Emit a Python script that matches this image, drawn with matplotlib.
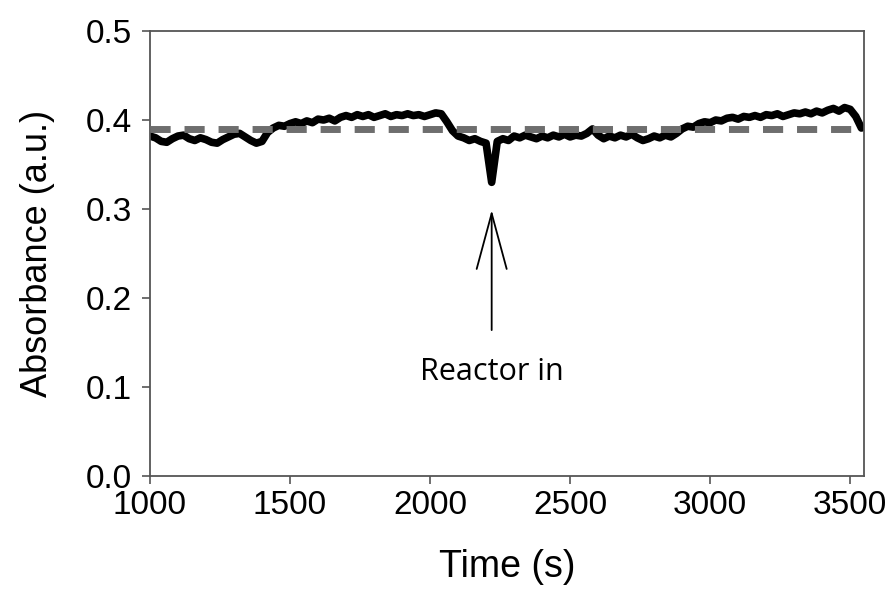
from matplotlib import pyplot as plt
import numpy as np

# absorbance trace, one reading every 20 s from 1000 s to 3540 s
time_s = np.arange(1000, 3541, 20)
absorbance = [
    # 1000 - 1440
    0.382, 0.380, 0.376, 0.375, 0.379, 0.382, 0.383, 0.379, 0.377, 0.380,
    0.378, 0.375, 0.374, 0.378, 0.381, 0.384, 0.385, 0.381, 0.377, 0.374,
    0.376, 0.386, 0.391,
    # 1460 - 2040
    0.394, 0.393, 0.396, 0.398, 0.396, 0.399, 0.397, 0.401, 0.400, 0.402,
    0.399, 0.403, 0.405, 0.403, 0.406, 0.404, 0.406, 0.403, 0.405, 0.407,
    0.404, 0.406, 0.405, 0.407, 0.405, 0.406, 0.404, 0.406, 0.408, 0.407,
    # 2060 - 2300
    0.398, 0.388, 0.382, 0.380, 0.377, 0.379, 0.376, 0.374, 0.330, 0.376,
    0.379, 0.377, 0.382,
    # 2320 - 2880
    0.380, 0.383, 0.381, 0.379, 0.382, 0.380, 0.383, 0.381, 0.384, 0.381,
    0.383, 0.382, 0.385, 0.390, 0.383, 0.379, 0.382, 0.380, 0.383, 0.381,
    0.384, 0.380, 0.377, 0.379, 0.382, 0.380, 0.383, 0.381, 0.385,
    # 2900 - 3540
    0.390, 0.393, 0.392, 0.396, 0.398, 0.397, 0.400, 0.399, 0.402, 0.403,
    0.401, 0.404, 0.403, 0.405, 0.403, 0.406, 0.405, 0.407, 0.404, 0.406,
    0.408, 0.407, 0.409, 0.407, 0.410, 0.408, 0.411, 0.413, 0.410, 0.414,
    0.412, 0.404, 0.391,
]
baseline = 0.390
reactor_in_time = 2220

x_ticks = [1000, 1500, 2000, 2500, 3000, 3500]
y_ticks = [0.0, 0.1, 0.2, 0.3, 0.4, 0.5]

plt.rcParams['font.family'] = ['Liberation Sans', 'DejaVu Sans']

fig = plt.figure(figsize=(8.9, 6.08), dpi=100)
ax = fig.add_axes([0.1685, 0.217, 0.8025, 0.732])

ax.plot(time_s, absorbance, color='black', lw=5.5, solid_joinstyle='round',
        solid_capstyle='round', zorder=2)
ax.axhline(baseline, color='#6e6e6e', lw=5, dashes=(2.9, 2.0),
           dash_capstyle='butt', zorder=3)

# arrow marking when the reactor goes in
ax.annotate('', xy=(reactor_in_time, 0.299), xytext=(reactor_in_time, 0.164),
            arrowprops=dict(arrowstyle='->,head_length=4.0,head_width=1.08',
                            mutation_scale=10, color='black', lw=1.3,
                            shrinkA=0, shrinkB=0))
ax.text(reactor_in_time, 0.117, 'Reactor in', ha='center', va='center',
        fontsize=22, family=['Open Sans', 'DejaVu Sans'])

ax.set_xlim(1000, 3550)
ax.set_ylim(0, 0.5)
ax.set_xticks(x_ticks)
ax.set_yticks(y_ticks)
ax.set_yticklabels(['{:.1f}'.format(v) for v in y_ticks])
ax.tick_params(labelsize=24, length=6, width=1.2, color='#555555')
ax.tick_params(axis='y', pad=7)
ax.tick_params(axis='x', pad=4)
for sp in ax.spines.values():
    sp.set_color('#555555')
    sp.set_linewidth(1.3)

ax.set_xlabel('Time (s)', fontsize=27, labelpad=20)
ax.set_ylabel('Absorbance (a.u.)', fontsize=26, labelpad=22)

fig.savefig('out.png', dpi=100)
